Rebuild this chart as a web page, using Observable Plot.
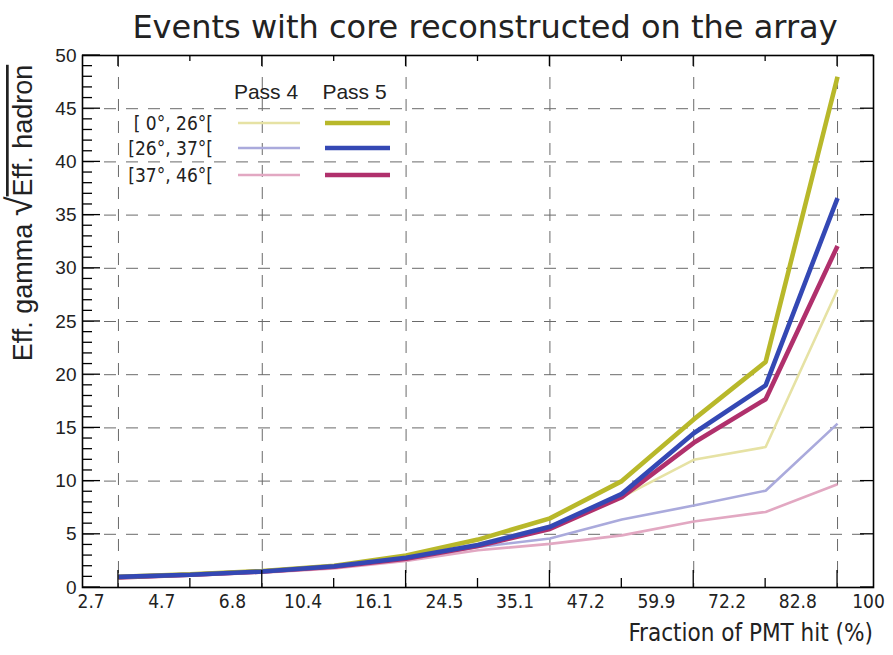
<!DOCTYPE html>
<html><head><meta charset="utf-8">
<script src="https://cdn.jsdelivr.net/npm/d3@7"></script>
<script src="https://cdn.jsdelivr.net/npm/@observablehq/plot@0.6"></script>
<style>body{margin:0;background:#fff}</style>
</head><body><div id="chart"></div>
<script>
// ---- data ----
const binEdges = ["2.7","4.7","6.8","10.4","16.1","24.5","35.1","47.2","59.9","72.2","82.8","100"];
const binIndex = [0,1,2,3,4,5,6,7,8,9,10];
const zenithBins = ["[ 0°, 26°[", "[26°, 37°[", "[37°, 46°["];
const passes = ["Pass 4", "Pass 5"];
const pass4_0_26  = [1.0, 1.2, 1.5, 2.0, 2.8, 4.1, 5.8, 8.5, 12.0, 13.2, 28.0];
const pass4_26_37 = [0.95, 1.15, 1.45, 1.9, 2.6, 3.8, 4.6, 6.4, 7.7, 9.1, 15.4];
const pass4_37_46 = [0.9, 1.1, 1.4, 1.8, 2.5, 3.5, 4.1, 4.9, 6.2, 7.1, 9.7];
const pass5_0_26  = [1.0, 1.25, 1.55, 2.05, 3.0, 4.5, 6.5, 10.0, 15.8, 21.2, 48.0];
const pass5_26_37 = [1.0, 1.2, 1.5, 2.0, 2.8, 4.0, 5.7, 8.8, 14.5, 19.0, 36.6];
const pass5_37_46 = [0.95, 1.2, 1.5, 1.95, 2.7, 3.9, 5.5, 8.5, 13.6, 17.7, 32.1];

const seriesValues = {
  "Pass 4": [pass4_0_26, pass4_26_37, pass4_37_46],
  "Pass 5": [pass5_0_26, pass5_26_37, pass5_37_46]
};
// ---- styles ----
const colors = {
  "Pass 4": ["#e6e2a4", "#aaaadc", "#e2a8c2"],
  "Pass 5": ["#b8b82a", "#3448b4", "#b0306c"]
};
const widths = {"Pass 4": 2.6, "Pass 5": 4.6};
const drawOrder = [["Pass 4",0],["Pass 4",1],["Pass 4",2],["Pass 5",2],["Pass 5",0],["Pass 5",1]];

const rows = [];
for (const p of passes) zenithBins.forEach((z, k) => {
  seriesValues[p][k].forEach((v, j) => rows.push({pass: p, k, zen: z, i: binIndex[j], v}));
});

const lineMarks = drawOrder.map(([p,k]) =>
  Plot.line(rows.filter(r => r.pass === p && r.k === k), {
    x: "i", y: "v", stroke: colors[p][k], strokeWidth: widths[p],
    strokeLinejoin: "miter", strokeLinecap: "butt"
  }));

const W = 893, H = 655;
const sansFont = "'Liberation Sans', Arial, sans-serif";
const labelFont = "'Liberation Sans Narrow', 'DejaVu Sans Condensed', 'Liberation Sans', sans-serif";
const n = binEdges.length;
const plot = Plot.plot({
  width: W, height: H,
  marginLeft: 82, marginRight: 20, marginTop: 55, marginBottom: 68,
  x: {domain: [-0.5, 10.5], axis: null},
  y: {domain: [0, 50], axis: null},
  style: {background: "#fff", fontFamily: sansFont},
  marks: [
    Plot.ruleY(d3.range(5, 50, 5), {stroke: "#6a6a6a", strokeWidth: 1, strokeDasharray: "12,10"}),
    Plot.ruleX(binIndex.filter(i => i % 2 === 0), {stroke: "#6a6a6a", strokeWidth: 1, strokeDasharray: "12,10"}),
    ...lineMarks,
    Plot.frame({stroke: "#000", strokeWidth: 1.6}),
    Plot.text(d3.range(0, 51, 5), {y: d => d, frameAnchor: "left", dx: -6, textAnchor: "end",
      fontSize: 19, fill: "#222"}),
    Plot.text(binEdges, {x: (d, i) => -0.38 + i * (10.43 + 0.38) / (n - 1), frameAnchor: "bottom",
      dy: 20, fontSize: 19, fill: "#222", fontFamily: labelFont})
  ]
});
document.getElementById("chart").appendChild(plot);

// ---- ticks, titles, legend ----
const svg = d3.select(plot);
const sx = plot.scale("x"), sy = plot.scale("y");
const xL = sx.apply(-0.5), xR = sx.apply(10.5), yB = sy.apply(0), yT = sy.apply(50);
const tg = svg.append("g").attr("stroke", "#000").attr("stroke-width", 1.3);
for (let v = 0; v <= 50; v++) {
  const len = v % 5 === 0 ? 18 : 10;
  const y = sy.apply(v);
  tg.append("line").attr("x1", xL).attr("x2", xL + len).attr("y1", y).attr("y2", y);
  if (v % 5 === 0) tg.append("line").attr("x1", xR).attr("x2", xR - 13).attr("y1", y).attr("y2", y);
}
binIndex.forEach(i => {
  const x = sx.apply(i), len = i % 2 === 0 ? 17 : 9;
  tg.append("line").attr("x1", x).attr("x2", x).attr("y1", yB).attr("y2", yB - len);
  tg.append("line").attr("x1", x).attr("x2", x).attr("y1", yT).attr("y2", yT + (i % 2 === 0 ? 11 : 6));
});

svg.append("text").attr("x", 485).attr("y", 38).attr("text-anchor", "middle")
  .attr("font-size", 32).attr("fill", "#222").attr("font-family", "'DejaVu Sans', Verdana, sans-serif")
  .text("Events with core reconstructed on the array");

svg.append("text").attr("x", xR).attr("y", 641).attr("text-anchor", "end")
  .attr("font-size", 24).attr("fill", "#222").attr("font-family", labelFont)
  .text("Fraction of PMT hit (%)");

const yl = svg.append("text").attr("transform", "translate(32,213) rotate(-90)")
  .attr("text-anchor", "middle").attr("font-size", 27).attr("fill", "#222")
  .attr("font-family", sansFont);
yl.append("tspan").text("Eff. gamma ");
yl.append("tspan").attr("font-size", 36).text("√");
yl.append("tspan").style("text-decoration", "overline").text("Eff. hadron");

// legend
const lg = svg.append("g").attr("font-family", sansFont).attr("fill", "#222");
const colX = {"Pass 4": [238, 300], "Pass 5": [325, 390]};
const rowY = [123, 148, 175];
passes.forEach(p => {
  lg.append("text").attr("x", (colX[p][0] + colX[p][1]) / 2 - 3).attr("y", 99)
    .attr("text-anchor", "middle").attr("font-size", 21).text(p);
  zenithBins.forEach((z, k) => {
    lg.append("line").attr("x1", colX[p][0]).attr("x2", colX[p][1])
      .attr("y1", rowY[k]).attr("y2", rowY[k])
      .attr("stroke", colors[p][k]).attr("stroke-width", widths[p]);
  });
});
zenithBins.forEach((z, k) => {
  lg.append("text").attr("x", 213).attr("y", rowY[k] + 7).attr("text-anchor", "end")
    .attr("font-size", 19).attr("font-family", labelFont).text(z);
});
</script>
</body></html>
